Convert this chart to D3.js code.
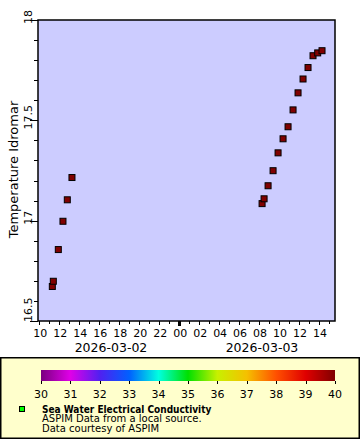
<!DOCTYPE html>
<html><head><meta charset="utf-8">
<script src="https://cdn.jsdelivr.net/npm/d3@7"></script>
<style>body{margin:0;background:#fff}svg{display:block;font-family:"DejaVu Sans",sans-serif}</style>
</head><body>
<script>
const times = ["2026-03-02T11:18","2026-03-02T11:24","2026-03-02T11:54","2026-03-02T12:22","2026-03-02T12:48","2026-03-02T13:16",
"2026-03-03T08:18","2026-03-03T08:30","2026-03-03T08:54","2026-03-03T09:24","2026-03-03T09:54","2026-03-03T10:24","2026-03-03T10:54",
"2026-03-03T11:24","2026-03-03T11:54","2026-03-03T12:24","2026-03-03T12:54","2026-03-03T13:24","2026-03-03T13:52","2026-03-03T14:18"];
const temps = [16.672,16.698,16.856,16.997,17.104,17.215,
17.085,17.109,17.174,17.249,17.338,17.408,17.468,17.552,17.637,17.706,17.763,17.822,17.836,17.847];
const conductivity = [40,40,40,40,40,40,40,40,40,40,40,40,40,40,40,40,40,40,40,40];
const yTicks = [16.5,17,17.5,18];
const dateLabels = ["2026-03-02","2026-03-03"];
const cbTicks = [30,31,32,33,34,35,36,37,38,39,40];
const cbColors = ["#7a0080","#e000e8","#5020f0","#0060ff","#00ffe0","#00e000","#c8f000","#f5c000","#ff5000","#e00000","#800000"];
const legendTitle = "Sea Water Electrical Conductivity";
const legendLines = ["ASPIM Data from a local source.","Data courtesy of ASPIM"];
const yTitle = "Temperature Idromar";

const W=360,H=440;
const svg=d3.select("body").append("svg").attr("width",W).attr("height",H);
const parse=d3.timeParse("%Y-%m-%dT%H:%M");
const L=38,R=335,T=20,B=321;
const x=d3.scaleTime().domain([parse("2026-03-02T09:52"),parse("2026-03-03T15:36")]).range([L,R]);
const y=d3.scaleLinear().domain([16.5,18]).range([B,T]);
const cScale=d3.scaleLinear().domain(cbTicks).range(cbColors);

svg.append("rect").attr("x",L).attr("y",T).attr("width",R-L).attr("height",B-T).attr("fill","#ccccff");

// y axis
const yAx=svg.append("g");
d3.range(16.5,18.001,0.1).forEach(v=>{
  const major=yTicks.some(t=>Math.abs(t-v)<1e-6);
  yAx.append("line").attr("x1",L-(major?8:4)).attr("x2",L).attr("y1",Math.round(y(v))+0.5).attr("y2",Math.round(y(v))+0.5).attr("stroke","#000");
});
yTicks.forEach((v,i)=>{
  const bottom=i===0;
  yAx.append("text").attr("transform",`translate(${L-6},${bottom?B+1:y(v)-3}) rotate(-90)`)
    .attr("text-anchor",bottom?"start":"middle").attr("font-size",11).text(v);
});
svg.append("text").attr("transform",`translate(18,${(T+B)/2-1}) rotate(-90)`).attr("text-anchor","middle").attr("font-size",13).text(yTitle);

// x axis
const hours=x.ticks(d3.timeHour.every(1));
const xAx=svg.append("g");
hours.forEach(h=>{
  const px=Math.round(x(h))+0.5;
  const midnight=h.getHours()===0;
  const labeled=h.getHours()%2===0;
  xAx.append("line").attr("x1",px).attr("x2",px).attr("y1",B).attr("y2",B+(midnight?5:(labeled?4:3))).attr("stroke","#000").attr("stroke-width",midnight?3:1);
  if(labeled) xAx.append("text").attr("x",x(h)+1).attr("y",B+16).attr("text-anchor","middle").attr("font-size",11).text(d3.timeFormat("%H")(h));
});
svg.append("text").attr("x",111).attr("y",B+31).attr("text-anchor","middle").attr("font-size",12.5).text(dateLabels[0]);
svg.append("text").attr("x",262).attr("y",B+31).attr("text-anchor","middle").attr("font-size",12.5).text(dateLabels[1]);

// frame
svg.append("rect").attr("x",L).attr("y",T).attr("width",R-L).attr("height",B-T).attr("fill","none").attr("stroke","#000").attr("stroke-width",1.5);

// points
svg.append("g").selectAll("rect").data(times.map((t,i)=>({t:parse(t),v:temps[i],c:conductivity[i]}))).join("rect")
  .attr("x",d=>x(d.t)-3).attr("y",d=>y(d.v)-3).attr("width",6).attr("height",6)
  .attr("fill",d=>cScale(d.c)).attr("stroke","#000").attr("stroke-width",1);

// legend
svg.append("rect").attr("x",0.75).attr("y",357.75).attr("width",358.5).attr("height",80.5).attr("fill","#ffffcc").attr("stroke","#000").attr("stroke-width",1.5);
const grad=svg.append("defs").append("linearGradient").attr("id","cb");
cbColors.forEach((c,i)=>grad.append("stop").attr("offset",(i/(cbColors.length-1)*100)+"%").attr("stop-color",c));
const cx=d3.scaleLinear().domain([30,40]).range([41,335]);
svg.append("rect").attr("x",41).attr("y",370).attr("width",294).attr("height",11).attr("fill","url(#cb)");
cbTicks.forEach(v=>{
  svg.append("line").attr("x1",Math.round(cx(v))+0.5).attr("x2",Math.round(cx(v))+0.5).attr("y1",381).attr("y2",384).attr("stroke","#000");
  svg.append("text").attr("x",cx(v)).attr("y",398).attr("text-anchor","middle").attr("font-size",11).text(v);
});
svg.append("rect").attr("x",19.5).attr("y",406.5).attr("width",5).attr("height",5).attr("fill","#00ff00").attr("stroke","#000");
svg.append("text").attr("x",42).attr("y",412.5).attr("font-size",10).attr("font-weight","bold")
  .style("font-family","'DejaVu Sans Condensed','DejaVu Sans',sans-serif").text(legendTitle);
legendLines.forEach((s,i)=>svg.append("text").attr("x",42).attr("y",422+i*9.5).attr("font-size",10).text(s));
</script>
</body></html>
